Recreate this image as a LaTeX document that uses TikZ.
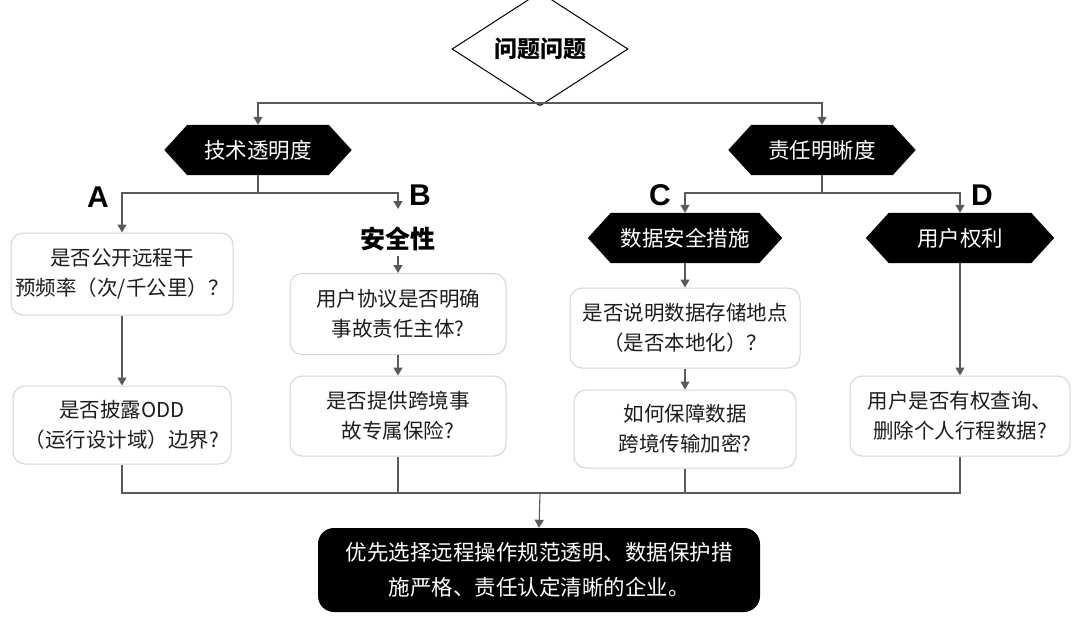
\documentclass[tikz,border=0pt]{standalone}
\usepackage{fontspec}
\setmainfont{Noto Sans CJK SC}
\newfontfamily\latinf{Liberation Sans}
\usetikzlibrary{shapes.geometric,arrows.meta,backgrounds}
\definecolor{linec}{HTML}{5A5A5A}
\definecolor{boxb}{HTML}{D4D4D4}
\definecolor{txt}{HTML}{1C1C1C}
\tikzset{
  line/.style={draw=linec,line width=1.1pt},
  arr/.style={line,-{Triangle[width=9pt,length=8pt]}},
  qbox/.style={draw=boxb,line width=1pt,rounded corners=12pt,fill=white,align=center,
    text=txt,font=\fontsize{20.5}{30}\selectfont,inner sep=0pt},
  hexn/.style={minimum height=50pt,inner sep=0pt,text=white,font=\fontsize{21.5}{26}\selectfont},
  letter/.style={font=\latinf\fontsize{30}{30}\selectfont\bfseries,text=black},
}
\newcommand{\hexfill}[1]{%
  \fill[black] (#1.west) -- ([xshift=23pt]#1.north west) -- ([xshift=-23pt]#1.north east)
    -- (#1.east) -- ([xshift=-23pt]#1.south east) -- ([xshift=23pt]#1.south west) -- cycle;}
\begin{document}
\begin{tikzpicture}[x=1pt,y=-1pt]
\useasboundingbox (0,0) rectangle (1080,627);
% top diamond
\node[diamond,draw=black,line width=1pt,fill=white,minimum width=176pt,minimum height=83pt,inner sep=0pt,
  font=\fontsize{23}{26}\selectfont\bfseries] (q) at (540,49) {问题问题};
% level 1 hexagons
\node[hexn,minimum width=187pt] (t1) at (258,150) {技术透明度};
\node[hexn,minimum width=187pt] (t2) at (822,150) {责任明晰度};
% level 2 hexagons
\node[hexn,minimum width=194pt] (hc) at (685,238) {数据安全措施};
\node[hexn,minimum width=188pt] (hd) at (960,238) {用户权利};
\begin{scope}[on background layer]
\fill[white] (0,0) rectangle (1080,627);
\hexfill{t1}\hexfill{t2}\hexfill{hc}\hexfill{hd}
\end{scope}
% B label
\node[font=\fontsize{25}{28}\selectfont\bfseries,text=black] (bl) at (398,239) {安全性};
% letters
\node[letter] (la) at (98,197) {A};
\node[letter] (lb) at (420,195) {B};
\node[letter] (lc) at (660,195) {C};
\node[letter] (ld) at (982,195) {D};
% question boxes
\node[qbox,minimum width=222pt,minimum height=82pt] (a1) at (122,274) {是否公开远程干\\预频率（次/千公里）？};
\node[qbox,minimum width=218pt,minimum height=78pt] (a2) at (122,425) {是否披露ODD\\（运行设计域）边界?};
\node[qbox,minimum width=216pt,minimum height=81pt] (b1) at (398,314) {用户协议是否明确\\事故责任主体?};
\node[qbox,minimum width=216pt,minimum height=80pt] (b2) at (398,416) {是否提供跨境事\\故专属保险?};
\node[qbox,minimum width=230pt,minimum height=80pt] (c1) at (685,328) {是否说明数据存储地点\\（是否本地化）？};
\node[qbox,minimum width=222pt,minimum height=78pt] (c2) at (685,429) {如何保障数据\\跨境传输加密?};
\node[qbox,minimum width=220pt,minimum height=80pt] (d1) at (960,416) {用户是否有权查询、\\删除个人行程数据?};
% final
\node[fill=black,rounded corners=16pt,minimum width=442pt,minimum height=84pt,inner sep=0pt,
  text=white,align=center,font=\fontsize{21.5}{35}\selectfont] (fin) at (539,570)
  {优先选择远程操作规范透明、数据保护措\\施严格、责任认定清晰的企业。};
% junctions
\coordinate (j0) at (540,103);
\coordinate (j1) at (258,193);
\coordinate (j2) at (822,193);
\coordinate (btip) at (398,209);
\coordinate (bst) at (398,256);
\coordinate (jb) at (540,493);
% connectors top
\draw[line] (q.south) -- (j0);
\draw[arr] (j0) -| (t1.north);
\draw[arr] (j0) -| (t2.north);
\draw[line] (t1.south) -- (j1);
\draw[arr] (j1) -| (a1.north);
\draw[arr] (j1) -| (btip);
\draw[line] (t2.south) -- (j2);
\draw[arr] (j2) -| (hc.north);
\draw[arr] (j2) -| (hd.north);
% vertical chains
\draw[arr] (a1.south) -- (a2.north);
\draw[arr] (bst) -- (b1.north);
\draw[arr] (b1.south) -- (b2.north);
\draw[arr] (hc.south) -- (c1.north);
\draw[arr] (c1.south) -- (c2.north);
\draw[arr] (hd.south) -- (d1.north);
% bottom collection
\draw[line] (a2.south) |- (jb);
\draw[line] (d1.south) |- (jb);
\draw[line] (b2.south) -- (b2.south |- jb);
\draw[line] (c2.south) -- (c2.south |- jb);
\draw[arr] (jb) -- (fin.north);
\end{tikzpicture}
\end{document}
